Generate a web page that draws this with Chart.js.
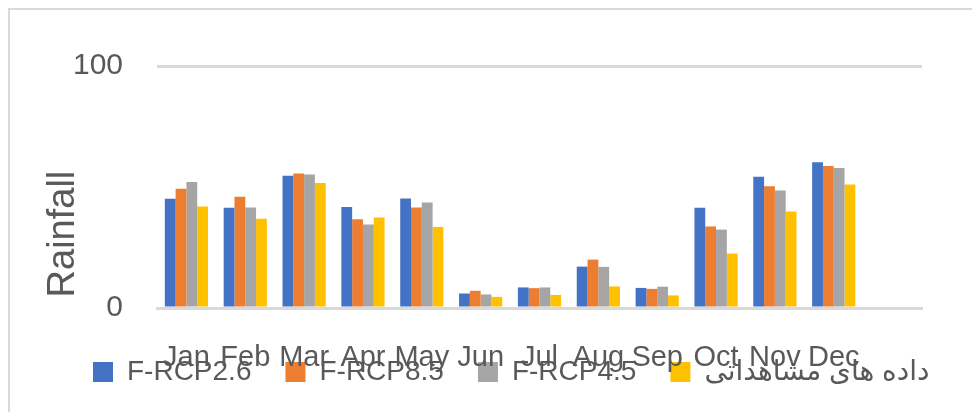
<!DOCTYPE html>
<html>
<head>
<meta charset="utf-8">
<script src="https://cdn.jsdelivr.net/npm/chart.js@4.4.1/dist/chart.umd.min.js"></script>
<style>
  html, body { margin: 0; padding: 0; background: #fff; overflow: hidden; }
  #frame { position: absolute; left: 8px; top: 8px; width: 1000px; height: 500px; border: 2px solid #d9d9d9; }
  #wrap { position: absolute; left: 0; top: 0; width: 972px; height: 412px; }
</style>
</head>
<body>
<div id="frame"></div>
<div id="wrap"><canvas id="rainChart"></canvas></div>
<script>
// monthly rainfall
const months = ['Jan', 'Feb', 'Mar', 'Apr', 'May', 'Jun', 'Jul', 'Aug', 'Sep', 'Oct', 'Nov', 'Dec'];
const rcp26 = [45.1, 41.4, 54.6, 41.7, 45.2, 6.0, 8.5, 17.1, 8.3, 41.4, 54.2, 60.2];
const rcp85 = [49.3, 46.0, 55.6, 36.7, 41.5, 7.1, 8.2, 20.0, 7.9, 33.7, 50.3, 58.7];
const rcp45 = [52.1, 41.5, 55.2, 34.5, 43.6, 5.6, 8.5, 17.0, 8.8, 32.4, 48.6, 57.9];
const observed = [41.9, 36.9, 51.7, 37.4, 33.5, 4.6, 5.4, 8.9, 5.2, 22.5, 39.9, 51.0];
const seriesNames = ['F-RCP2.6', 'F-RCP8.5', 'F-RCP4.5', 'داده های مشاهداتی'];
const yTicks = [0, 100];

const textColor = '#595959';
const lineColor = '#d9d9d9';
const fontFamily = '"Liberation Sans", Arial, "DejaVu Sans", sans-serif';

const ctx = document.getElementById('rainChart').getContext('2d');

// the original chart has one empty slot after Dec
const labels = months.concat(['']);

// in the original the legend row sits on top of the month labels
const legendOverlap = {
    id: 'legendOverlap',
    afterLayout(chart) {
        const lg = chart.legend;
        lg.top -= 56;
        lg.height = 72;
        lg.bottom = lg.top + lg.height;
    }
};

const rainChart = new Chart(ctx, {
    type: 'bar',
    data: {
        labels: labels,
        datasets: [
            { label: seriesNames[0], data: rcp26, backgroundColor: '#4472c4' },
            { label: seriesNames[1], data: rcp85, backgroundColor: '#ed7d31' },
            { label: seriesNames[2], data: rcp45, backgroundColor: '#a5a5a5' },
            { label: seriesNames[3], data: observed, backgroundColor: '#ffc000' }
        ]
    },
    options: {
        responsive: true,
        maintainAspectRatio: false,
        animation: false,
        devicePixelRatio: 1,
        categoryPercentage: 0.734,
        barPercentage: 1,
        layout: {
            padding: { left: 59, right: 0, top: 66, bottom: 0 }
        },
        scales: {
            x: {
                grid: { display: false },
                border: { display: true, color: lineColor, width: 3 },
                ticks: {
                    color: textColor,
                    font: { family: fontFamily, size: 29 },
                    padding: 25,
                    autoSkip: false,
                    maxRotation: 0,
                    minRotation: 0
                },
                afterFit: (scale) => { scale.height = 72; }
            },
            y: {
                min: yTicks[0],
                max: yTicks[1],
                afterBuildTicks: (scale) => { scale.ticks = yTicks.map(v => ({ value: v })); },
                grid: { color: lineColor, lineWidth: 3, drawTicks: false },
                border: { display: false },
                ticks: {
                    color: textColor,
                    font: { family: fontFamily, size: 30 },
                    padding: 34
                },
                title: {
                    display: true,
                    text: ' Rainfall',
                    align: 'start',
                    color: textColor,
                    font: { family: fontFamily, size: 38 },
                    padding: { top: -18, bottom: 0 }
                },
                afterFit: (scale) => { scale.width = 98; }
            },
            // empty right-hand margin of the plot
            yRight: {
                type: 'linear',
                position: 'right',
                display: true,
                grid: { display: false },
                border: { display: false },
                ticks: { display: false },
                afterFit: (scale) => { scale.width = 50; }
            }
        },
        plugins: {
            legend: {
                position: 'bottom',
                align: 'start',
                maxHeight: 32,
                labels: {
                    color: textColor,
                    font: { family: fontFamily, size: 28 },
                    boxWidth: 20,
                    boxHeight: 20,
                    padding: 34
                }
            },
            tooltip: { enabled: false }
        }
    },
    plugins: [legendOverlap]
});
</script>
</body>
</html>
